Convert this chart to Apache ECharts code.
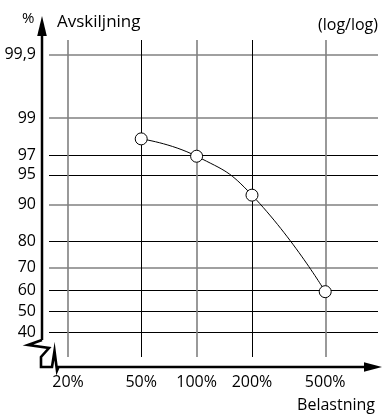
<!DOCTYPE html>
<html>
<head>
<meta charset="utf-8">
<script src="https://cdn.jsdelivr.net/npm/echarts@6/dist/echarts.min.js"></script>
<style>
html,body{margin:0;padding:0;background:#fff;}
#chart{width:382px;height:416px;}
</style>
</head>
<body>
<div id="chart"></div>
<script>
// ---- data ----
const xTicks = [20, 50, 100, 200, 500];
const xTickLabels = ['20%', '50%', '100%', '200%', '500%'];
const yTicks = [40, 50, 60, 70, 80, 90, 95, 97, 99, 99.9];
const yTickLabels = ['40', '50', '60', '70', '80', '90', '95', '97', '99', '99,9'];
const loadPct = [50, 100, 200, 500];          // Belastning
const separationPct = [98.1, 96.9, 91.9, 59.4]; // Avskiljning
const xGrayTicks = [20, 100, 500];
const yGrayTicks = [99.9, 99, 90, 70];
const xRangePct = [15.77, 968];
const yRangePct = [29.2, 99.945];

// ---- scales: log for x, normal probability (probit) for y ----
function probit(p) {
  const a = [-3.969683028665376e+01, 2.209460984245205e+02, -2.759285104469687e+02, 1.383577518672690e+02, -3.066479806614716e+01, 2.506628277459239e+00];
  const b = [-5.447609879822406e+01, 1.615858368580409e+02, -1.556989798598866e+02, 6.680131188771972e+01, -1.328068155288572e+01];
  const c = [-7.784894002430293e-03, -3.223964580411365e-01, -2.400758277161838e+00, -2.549732539343734e+00, 4.374664141464968e+00, 2.938163982698783e+00];
  const d = [7.784695709041462e-03, 3.224671290700398e-01, 2.445134137142996e+00, 3.754408661907416e+00];
  const pl = 0.02425, ph = 1 - pl;
  let q, r;
  if (p < pl) {
    q = Math.sqrt(-2 * Math.log(p));
    return (((((c[0]*q+c[1])*q+c[2])*q+c[3])*q+c[4])*q+c[5]) / ((((d[0]*q+d[1])*q+d[2])*q+d[3])*q+1);
  } else if (p <= ph) {
    q = p - 0.5; r = q*q;
    return (((((a[0]*r+a[1])*r+a[2])*r+a[3])*r+a[4])*r+a[5])*q / (((((b[0]*r+b[1])*r+b[2])*r+b[3])*r+b[4])*r+1);
  } else {
    q = Math.sqrt(-2 * Math.log(1 - p));
    return -(((((c[0]*q+c[1])*q+c[2])*q+c[3])*q+c[4])*q+c[5]) / ((((d[0]*q+d[1])*q+d[2])*q+d[3])*q+1);
  }
}
const fx = v => Math.log10(v);
const fy = v => probit(v / 100);

function nearestLabel(val, ticks, labels, f) {
  let best = 0, bd = Infinity;
  ticks.forEach((t, i) => { const d = Math.abs(f(t) - val); if (d < bd) { bd = d; best = i; } });
  return labels[best];
}

const FONT = "'Open Sans', 'Noto Sans', sans-serif";
const GRAY = '#808080';

const chart = echarts.init(document.getElementById('chart'), null, {renderer: 'canvas'});

const gridLines = [];
yTicks.forEach(t => {
  const g = yGrayTicks.includes(t);
  gridLines.push({yAxis: fy(t), lineStyle: {color: g ? GRAY : '#000', width: g ? 1.6 : 1, type: 'solid'}});
});
xTicks.forEach(t => {
  const g = xGrayTicks.includes(t);
  gridLines.push({xAxis: fx(t), lineStyle: {color: g ? GRAY : '#000', width: g ? 1.6 : 1, type: 'solid'}});
});

// axis decoration (arrows + break marks)
const AX = 42, AY = 367;
const option = {
  animation: false,
  backgroundColor: '#fff',
  grid: {left: 49, right: 4, top: 40, bottom: 59},
  xAxis: {
    type: 'value',
    min: fx(xRangePct[0]), max: fx(xRangePct[1]),
    axisLine: {show: false}, axisTick: {show: false}, splitLine: {show: false},
    axisLabel: {
      customValues: xTicks.map(fx),
      formatter: v => nearestLabel(v, xTicks, xTickLabels, fx),
      color: '#000', fontFamily: FONT, fontSize: 16, margin: 17
    }
  },
  yAxis: {
    type: 'value',
    min: fy(yRangePct[0]), max: fy(yRangePct[1]),
    axisLine: {show: false}, axisTick: {show: false}, splitLine: {show: false},
    axisLabel: {
      customValues: yTicks.map(fy),
      formatter: v => nearestLabel(v, yTicks, yTickLabels, fy),
      color: '#000', fontFamily: FONT, fontSize: 16, margin: 13
    }
  },
  series: [
    {
      type: 'line', data: [], z: 1, silent: true,
      markLine: {silent: true, symbol: ['none', 'none'], label: {show: false}, animation: false, data: gridLines}
    },
    {
      type: 'line', z: 5,
      data: loadPct.map((v, i) => [fx(v), fy(separationPct[i])]),
      smooth: 0.5,
      symbol: 'circle', symbolSize: 12,
      lineStyle: {color: '#000', width: 1},
      itemStyle: {color: '#fff', borderColor: '#000', borderWidth: 1}
    }
  ],
  graphic: [
    {type: 'polyline', z: 10, shape: {points: [[AX, 340], [AX, 30]]}, style: {stroke: '#000', lineWidth: 2.5, fill: null}},
    {type: 'polygon', z: 10, shape: {points: [[AX, 16], [AX - 4.8, 36], [AX + 4.8, 36]]}, style: {fill: '#000'}},
    {type: 'polyline', z: 10, shape: {points: [[AX, 340], [28, 345], [49, 348], [41, 357], [41, AY], [52, AY], [54.5, 351], [57, 370.5], [58.5, AY], [368, AY]]},
      style: {stroke: '#000', lineWidth: 2.6, fill: null, lineJoin: 'miter'}},
    {type: 'polygon', z: 10, shape: {points: [[382, AY], [364, AY - 4.8], [364, AY + 4.8]]}, style: {fill: '#000'}},
    {type: 'text', z: 10, left: 22, top: 11, style: {text: '%', font: "15px " + FONT, fill: '#000'}},
    {type: 'text', z: 10, left: 57, top: 14, style: {text: 'Avskiljning', font: "17px " + FONT, fill: '#000'}},
    {type: 'text', z: 10, right: 4, top: 17, style: {text: '(log/log)', font: "16px " + FONT, fill: '#000'}},
    {type: 'text', z: 10, right: 7, top: 397, style: {text: 'Belastning', font: "16px " + FONT, fill: '#000'}}
  ]
};
chart.setOption(option);
</script>
</body>
</html>
